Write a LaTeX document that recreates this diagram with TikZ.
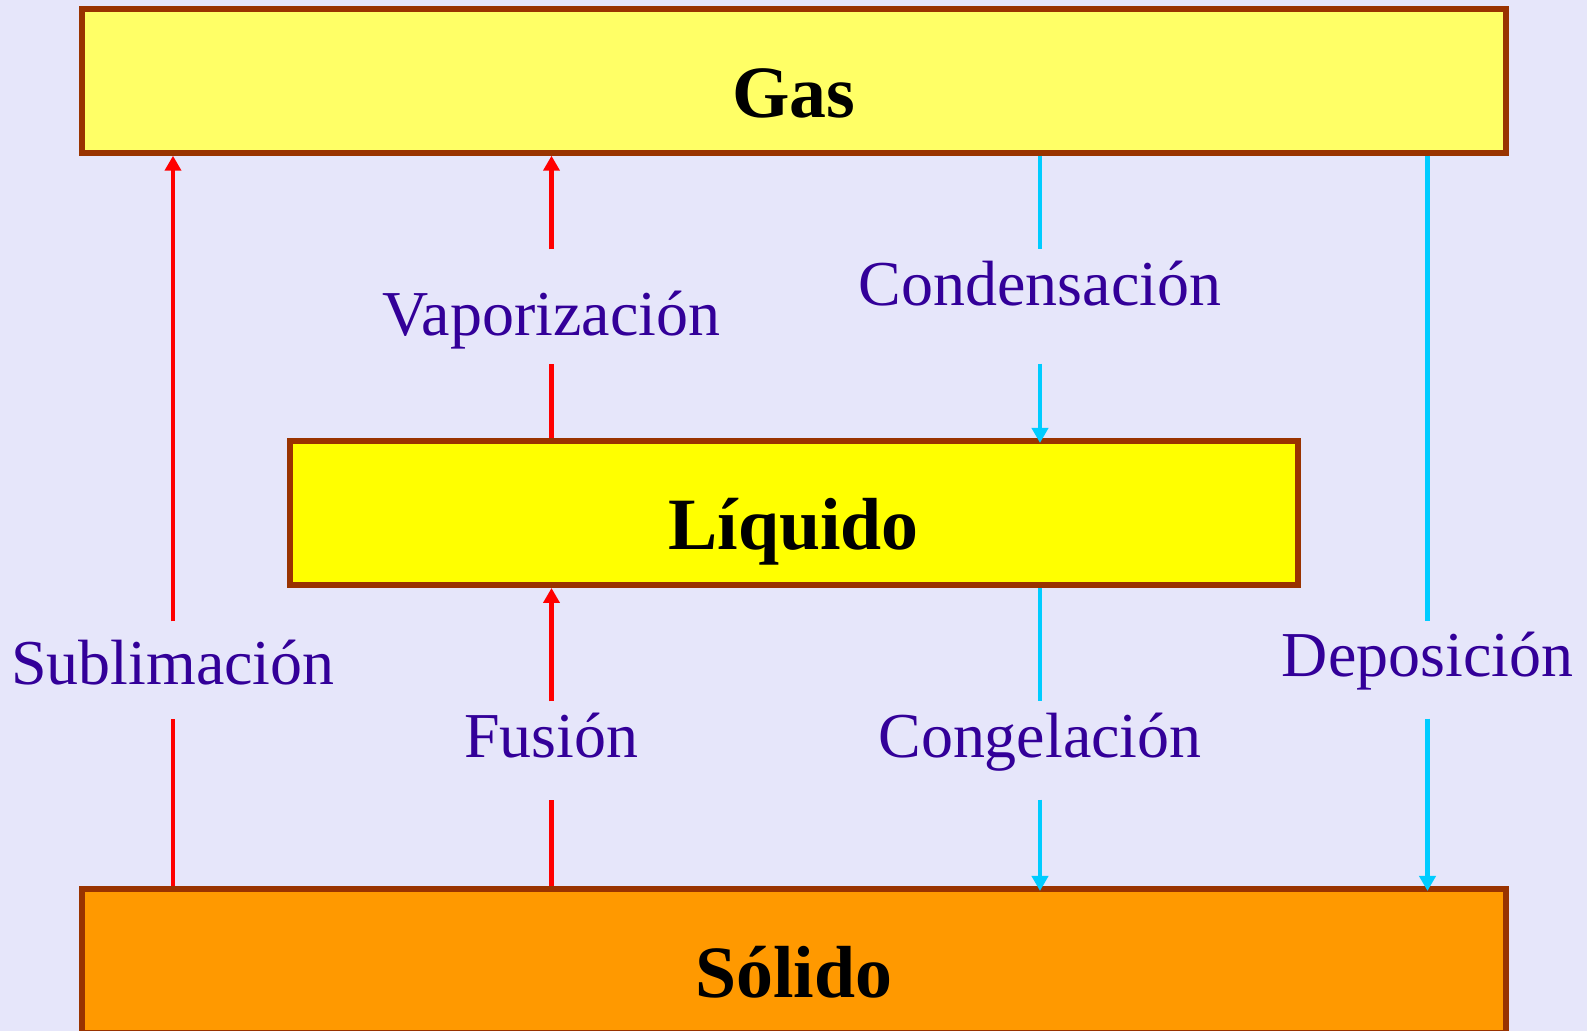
\documentclass[tikz,border=0pt]{standalone}
\usepackage{fontspec}
\setmainfont{Liberation Serif}
\usepackage{tikz}
\usepackage{xcolor}
\usetikzlibrary{arrows.meta}
\definecolor{fondo}{HTML}{E6E6FA}
\definecolor{borde}{HTML}{993300}
\definecolor{texto}{HTML}{330099}
\definecolor{rojo}{HTML}{FF0000}
\definecolor{celeste}{HTML}{00CCFF}
\definecolor{gascol}{HTML}{FFFF66}
\definecolor{liqcol}{HTML}{FFFF00}
\definecolor{solcol}{HTML}{FF9900}

\begin{document}
\begin{tikzpicture}[
    caja/.style={draw=borde, line width=0.06cm, minimum height=1.44cm, inner sep=0pt,
        text height=0.74cm, text depth=0pt, font=\fontsize{21}{25}\selectfont\bfseries},
    proceso/.style={text=texto, inner sep=0pt, anchor=base, font=\fontsize{18.2}{22}\selectfont},
    sube/.style={draw=rojo, line width=0.042cm},
    baja/.style={draw=celeste, line width=0.042cm},
    punta/.style={-{Triangle[length=0.15cm,width=0.16cm]}}
]
                \fill[fondo] (0,0) rectangle (15.87,10.31);
                \useasboundingbox (0,0) rectangle (15.87,10.31);
                \node[caja, fill=gascol, minimum width=14.235cm] (gas) at (7.9375,9.5025) {Gas};
                \node[caja, fill=liqcol, minimum width=10.075cm] (liq) at (7.9375,5.18) {Líquido};
                \node[caja, fill=solcol, minimum width=14.235cm] (sol) at (7.9375,0.70) {Sólido};
                \node[proceso, text height=0.63cm, text depth=0.33cm] (subl) at (1.73,3.46) {Sublimación};
                \node[proceso, text height=0.86cm, text depth=0.27cm] (vap) at (5.515,6.95) {Vaporización};
                \node[proceso, text height=0.56cm, text depth=0.57cm] (cond) at (10.40,7.25) {Condensación};
                \node[proceso, text height=0.56cm, text depth=0.41cm] (fus) at (5.515,2.73) {Fusión};
                \node[proceso, text height=0.56cm, text depth=0.41cm] (cong) at (10.40,2.73) {Congelación};
                \node[proceso, text height=0.55cm, text depth=0.41cm] (dep) at (14.275,3.54) {Deposición};
                \draw[sube] (subl.south |- sol.north) -- (subl.south);
                \draw[sube,punta] (subl.north) -- (subl.north |- gas.south);
                \draw[sube] (vap.south |- liq.north) -- (vap.south);
                \draw[sube,punta] (vap.north) -- (vap.north |- gas.south);
                \draw[sube] (fus.south |- sol.north) -- (fus.south);
                \draw[sube,punta] (fus.north) -- (fus.north |- liq.south);
                \draw[baja] (cond.north |- gas.south) -- (cond.north);
                \draw[baja,punta,shorten >=-0.05cm] (cond.south) -- (cond.south |- liq.north);
                \draw[baja] (cong.north |- liq.south) -- (cong.north);
                \draw[baja,punta,shorten >=-0.05cm] (cong.south) -- (cong.south |- sol.north);
                \draw[baja] (dep.north |- gas.south) -- (dep.north);
                \draw[baja,punta,shorten >=-0.05cm] (dep.south) -- (dep.south |- sol.north);
            \end{tikzpicture}
\end{document}
